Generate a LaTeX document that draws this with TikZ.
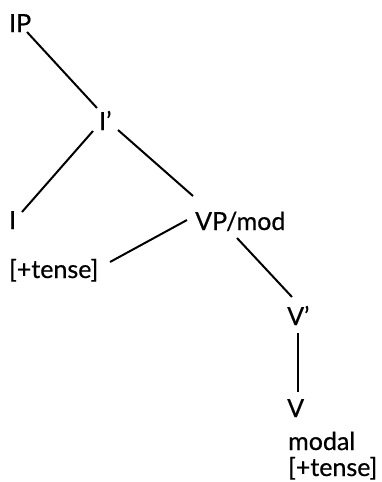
\documentclass[tikz,border=0pt]{standalone}
\usepackage{fontspec}
\setmainfont{Lato}
\newfontfamily\treefont{Lato}[FakeBold=0.6]
\begin{document}
\begin{tikzpicture}[x=1pt,y=1pt,
  lbl/.style={anchor=base west,inner sep=0pt,font=\treefont\fontsize{25}{29}\selectfont},
  branch/.style={line width=2pt}]
\useasboundingbox (0,0) rectangle (381,-482);
% category labels
\node[lbl] (ip) at (9,-32) {IP};
\node[lbl] (ib) at (99,-130) {I’};
\node[lbl] (i) at (9,-229) {I};
\node[lbl] (vp) at (195,-230) {VP/mod};
\node[lbl] (t1) at (9,-278) {[+tense]};
\node[lbl] (vb) at (287,-325) {V’};
\node[lbl] (v) at (287,-417) {V};
\node[lbl] (modal) at (288,-450) {modal};
\node[lbl] (t2) at (288,-476) {[+tense]};
% branches
\draw[branch] ([shift={(18,0)}]ip.base west) -- ([shift={(-2,22)}]ib.base west);
\draw[branch] ([shift={(-6,-1)}]ib.base west) -- ([shift={(13,17)}]i.base west);
\draw[branch] ([shift={(19,0)}]ib.base west) -- ([shift={(-2,34)}]vp.base west);
\draw[branch] ([shift={(-8,10)}]vp.base west) -- ([shift={(101,16)}]t1.base west);
\draw[branch] ([shift={(42,-8)}]vp.base west) -- ([shift={(5,28)}]vb.base west);
\draw[branch] ([shift={(11,-8)}]vb.base west) -- ([shift={(11,25)}]v.base west);
\end{tikzpicture}
\end{document}
